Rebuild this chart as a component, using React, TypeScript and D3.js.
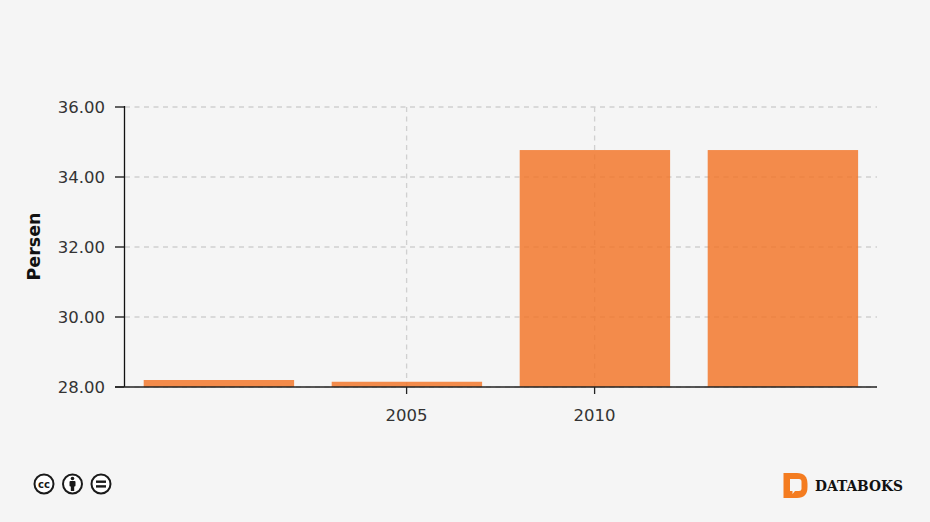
import React from "react";
import * as d3 from "d3";

const categories = ["2000", "2005", "2010", "2015"];
const values = [28.2, 28.15, 34.77, 34.77];
const yTicks = [28, 30, 32, 34, 36];
const xTickLabels = ["2005", "2010"];
const yLabel = "Persen";
const brand = "DATABOKS";

const W = 930;
const H = 522;
const FONT = "'DejaVu Sans', Verdana, sans-serif";

export default function App() {
  const x = d3.scaleBand<string>().domain(categories).range([124.9, 876.9]).paddingInner(0.2).paddingOuter(0.1);
  const y = d3.scaleLinear().domain([28, 36]).range([387, 107]);
  const cxOf = (t: string) => x(t)! + x.bandwidth() / 2 - 0.3;
  return (
    <svg width={W} height={H} viewBox={`0 0 ${W} ${H}`} style={{ position: "absolute", left: 0, top: 0, display: "block" }}>
      <rect width={W} height={H} fill="#f5f5f5" />
      {yTicks.map((t) => (
        <line key={t} x1={125} x2={877} y1={y(t)} y2={y(t)} stroke="#d0d0d0" strokeWidth={1.3} strokeDasharray="5 4.5" />
      ))}
      {xTickLabels.map((t) => (
        <line key={t} x1={cxOf(t)} x2={cxOf(t)} y1={107} y2={387} stroke="#d0d0d0" strokeWidth={1.3} strokeDasharray="5 4.5" />
      ))}
      {categories.map((c, i) => (
        <rect key={c} x={x(c)} width={x.bandwidth()} y={y(values[i])} height={387 - y(values[i])} fill="#f37021" fillOpacity={0.8} />
      ))}
      <line x1={124.5} x2={124.5} y1={106} y2={387} stroke="#111" strokeWidth={1.3} />
      <line x1={115} x2={877} y1={387} y2={387} stroke="#222" strokeWidth={1.6} />
      {yTicks.map((t) => (
        <g key={t}>
          <line x1={115} x2={124} y1={y(t)} y2={y(t)} stroke="#222" strokeWidth={1.4} />
          <text x={105} y={y(t) + 5.5} textAnchor="end" fontFamily={FONT} fontSize={16.5} fill="#333">{d3.format(".2f")(t)}</text>
        </g>
      ))}
      {xTickLabels.map((t) => (
        <g key={t}>
          <line x1={cxOf(t)} x2={cxOf(t)} y1={387} y2={394} stroke="#222" strokeWidth={1.3} />
          <text x={cxOf(t)} y={421} textAnchor="middle" fontFamily={FONT} fontSize={16.5} fill="#333">{t}</text>
        </g>
      ))}
      <text transform="translate(39.5,246.5) rotate(-90)" textAnchor="middle" fontFamily={FONT} fontSize={17.5} fontWeight="bold" fill="#111">{yLabel}</text>

      <g fill="none" stroke="#1a1a1a" strokeWidth={2}>
        <circle cx={44} cy={484} r={9.5} fill="#fff" />
        <circle cx={72.5} cy={484} r={9.5} fill="#fff" />
        <circle cx={101} cy={484} r={9.5} fill="#fff" />
      </g>
      <text x={44} y={487.5} textAnchor="middle" fontFamily="'DejaVu Sans', sans-serif" fontSize={10} fontWeight="bold" fill="#1a1a1a">cc</text>
      <circle cx={72.5} cy={478.5} r={1.8} fill="#1a1a1a" />
      <rect x={69.5} y={481} width={6} height={5.5} rx={1} fill="#1a1a1a" />
      <rect x={70.8} y={486} width={3.4} height={5} fill="#1a1a1a" />
      <rect x={96} y={480.5} width={10} height={2.4} fill="#1a1a1a" />
      <rect x={96} y={485.2} width={10} height={2.4} fill="#1a1a1a" />

      <path d="M783.5 473 H797 Q807.5 473 807.5 484 V487 Q807.5 498 797 498 H783.5 Z" fill="#f47c20" />
      <path d="M790 479 H799 Q801.5 479 801.5 481.5 V489 Q801.5 491 799 491 H795 L792.5 494 V491 H790 Z" fill="#f5f5f5" />
      <text x={815} y={491} fontFamily="'DejaVu Serif', serif" fontSize={14.5} fontWeight="bold" fill="#111" textLength={88} lengthAdjust="spacingAndGlyphs">{brand}</text>
    </svg>
  );
}
